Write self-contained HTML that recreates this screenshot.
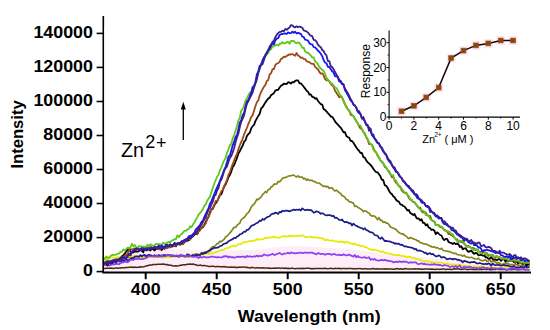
<!DOCTYPE html>
<html><head><meta charset="utf-8"><style>
html,body{margin:0;padding:0;background:#fff;}
body{width:550px;height:330px;overflow:hidden;}
svg{display:block;}
text{font-family:"Liberation Sans",sans-serif;}
.tl{font-size:17px;font-weight:bold;}
.il{font-size:12px;}
</style></head><body>
<svg width="550" height="330" viewBox="0 0 550 330">
<rect width="550" height="330" fill="#fff"/>
<path d="M104.0,259.2 L106.0,259.0 L108.0,258.8 L110.0,258.5 L112.0,258.2 L114.0,257.9 L116.0,257.6 L118.0,257.2 L120.0,256.9 L122.0,256.6 L124.0,256.2 L126.0,255.7 L128.0,255.1 L130.0,254.0 L132.0,253.1 L134.0,252.8 L136.0,252.6 L138.0,252.5 L140.0,252.3 L142.0,252.1 L144.0,251.6 L146.0,251.0 L148.0,250.4 L150.0,250.0 L152.0,249.8 L154.0,249.7 L156.0,249.6 L158.0,249.5 L160.0,249.4 L162.0,249.3 L164.0,249.3 L166.0,249.3 L168.0,249.3 L170.0,249.3 L172.0,249.3 L174.0,249.3 L176.0,249.4 L178.0,249.4 L180.0,249.4 L182.0,249.4 L184.0,249.5 L186.0,249.5 L188.0,249.6 L190.0,249.8 L192.0,250.0 L194.0,250.2 L196.0,250.3 L198.0,250.5 L200.0,250.5 L202.0,250.5 L204.0,250.5 L206.0,250.4 L208.0,250.4 L210.0,250.4 L212.0,250.3 L214.0,250.3 L216.0,250.3 L218.0,250.3 L220.0,250.3 L222.0,250.3 L224.0,250.3 L226.0,250.3 L228.0,250.3 L230.0,250.3 L232.0,250.3 L234.0,250.3 L236.0,250.3 L238.0,250.3 L240.0,250.3 L242.0,250.3 L244.0,250.3 L246.0,250.2 L248.0,250.1 L250.0,250.1 L252.0,250.0 L254.0,249.9 L256.0,249.7 L258.0,249.6 L260.0,249.5 L262.0,249.3 L264.0,249.1 L266.0,248.8 L268.0,248.5 L270.0,248.1 L272.0,247.8 L274.0,247.6 L276.0,247.4 L278.0,247.2 L280.0,247.0 L282.0,246.9 L284.0,246.7 L286.0,246.6 L288.0,246.5 L290.0,246.5 L292.0,246.5 L294.0,246.5 L296.0,246.5 L298.0,246.6 L300.0,246.6 L302.0,246.6 L304.0,246.7 L306.0,246.7 L308.0,246.8 L310.0,246.8 L312.0,246.9 L314.0,246.9 L316.0,247.0 L318.0,247.1 L320.0,247.3 L322.0,247.4 L324.0,247.5 L326.0,247.7 L328.0,247.8 L330.0,247.9 L332.0,248.0 L334.0,248.1 L336.0,248.2 L338.0,248.3 L340.0,248.4 L342.0,248.5 L344.0,248.6 L346.0,248.7 L348.0,248.8 L350.0,249.0 L352.0,249.2 L354.0,249.4 L356.0,249.7 L358.0,250.0 L360.0,250.3 L362.0,250.7 L364.0,251.0 L366.0,251.4 L368.0,251.7 L370.0,252.0 L372.0,252.3 L374.0,252.6 L376.0,253.0 L378.0,253.3 L380.0,253.6 L382.0,253.9 L384.0,254.2 L386.0,254.4 L388.0,254.5 L390.0,254.7 L392.0,254.8 L394.0,254.9 L396.0,255.1 L398.0,255.2 L400.0,255.3 L402.0,255.4 L404.0,255.5 L406.0,255.6 L408.0,255.7 L410.0,255.9 L412.0,256.1 L414.0,256.3 L416.0,256.5 L418.0,256.7 L420.0,256.9 L422.0,257.2 L424.0,257.4 L426.0,257.6 L428.0,257.8 L430.0,258.0 L432.0,258.2 L434.0,258.3 L436.0,258.5 L438.0,258.7 L440.0,258.8 L442.0,259.0 L444.0,259.2 L446.0,259.3 L448.0,259.5 L450.0,259.6 L452.0,259.7 L454.0,259.9 L456.0,260.0 L458.0,260.2 L460.0,260.3 L462.0,260.4 L464.0,260.6 L466.0,260.7 L468.0,260.8 L470.0,261.0 L472.0,261.1 L474.0,261.2 L476.0,261.3 L478.0,261.4 L480.0,261.5 L482.0,261.6 L484.0,261.6 L486.0,261.7 L488.0,261.8 L490.0,261.9 L492.0,261.9 L494.0,262.0 L496.0,262.1 L498.0,262.1 L500.0,262.2 L502.0,262.2 L504.0,262.3 L506.0,262.4 L508.0,262.4 L510.0,262.5 L512.0,262.5 L514.0,262.5 L516.0,262.6 L518.0,262.6 L520.0,262.6 L522.0,262.7 L524.0,262.7 L526.0,262.7 L528.0,262.7 L530.0,262.7 L530,270.5 L104,270.5 Z" fill="#fcedf7"/>
<path d="M103.5,268.4 L104.9,268.5 L106.3,268.3 L107.8,268.2 L109.2,268.2 L110.6,268.1 L112.0,268.3 L113.4,268.5 L114.9,268.1 L116.3,268.0 L117.7,268.2 L119.1,268.1 L120.5,268.0 L122.0,267.7 L123.4,267.8 L124.8,267.8 L126.2,267.4 L127.6,267.5 L129.1,267.2 L130.5,267.2 L131.9,267.1 L133.3,267.4 L134.7,267.1 L136.2,267.4 L137.6,267.3 L139.0,267.2 L140.4,266.7 L141.8,266.9 L143.3,266.8 L144.7,266.5 L146.1,265.8 L147.5,265.7 L148.9,265.2 L150.4,264.9 L151.8,265.0 L153.2,264.5 L154.6,264.5 L156.0,264.6 L157.5,264.2 L158.9,264.3 L160.3,264.3 L161.7,264.2 L163.1,264.0 L164.6,264.3 L166.0,264.7 L167.4,264.4 L168.8,265.2 L170.2,265.3 L171.7,265.3 L173.1,266.1 L174.5,266.0 L175.9,265.8 L177.3,266.0 L178.8,265.8 L180.2,265.3 L181.6,265.2 L183.0,264.8 L184.4,264.7 L185.9,264.7 L187.3,264.2 L188.7,264.3 L190.1,264.1 L191.5,264.2 L193.0,264.1 L194.4,264.4 L195.8,264.7 L197.2,265.2 L198.6,265.5 L200.1,265.1 L201.5,265.4 L202.9,265.8 L204.3,265.4 L205.7,265.8 L207.2,266.0 L208.6,266.4 L210.0,266.4 L211.4,266.3 L212.8,266.3 L214.3,266.4 L215.7,266.8 L217.1,266.5 L218.5,266.6 L219.9,266.8 L221.4,266.7 L222.8,266.8 L224.2,266.6 L225.6,266.9 L227.0,266.9 L228.5,267.2 L229.9,267.2 L231.3,267.1 L232.7,267.2 L234.1,267.1 L235.6,267.4 L237.0,267.2 L238.4,267.4 L239.8,267.0 L241.2,267.4 L242.7,267.0 L244.1,267.0 L245.5,267.4 L246.9,267.3 L248.3,267.6 L249.8,268.0 L251.2,267.5 L252.6,267.6 L254.0,267.8 L255.4,267.9 L256.9,267.8 L258.3,267.8 L259.7,268.0 L261.1,268.0 L262.5,267.8 L264.0,268.0 L265.4,268.0 L266.8,267.9 L268.2,268.2 L269.6,268.0 L271.1,268.4 L272.5,268.2 L273.9,268.2 L275.3,268.1 L276.7,268.2 L278.2,267.9 L279.6,268.1 L281.0,268.4 L282.4,267.9 L283.8,268.5 L285.3,268.0 L286.7,268.5 L288.1,268.2 L289.5,268.5 L290.9,268.4 L292.4,268.1 L293.8,268.6 L295.2,268.7 L296.6,268.4 L298.0,268.4 L299.5,268.4 L300.9,268.2 L302.3,268.7 L303.7,268.3 L305.1,268.4 L306.6,268.3 L308.0,268.3 L309.4,268.2 L310.8,268.7 L312.2,268.5 L313.7,268.7 L315.1,268.5 L316.5,268.4 L317.9,268.4 L319.3,268.4 L320.8,268.5 L322.2,268.4 L323.6,268.5 L325.0,268.3 L326.4,268.4 L327.9,268.9 L329.3,268.4 L330.7,268.3 L332.1,268.6 L333.5,268.8 L335.0,268.3 L336.4,268.5 L337.8,268.5 L339.2,268.2 L340.6,268.8 L342.1,268.6 L343.5,268.6 L344.9,268.5 L346.3,268.7 L347.7,268.5 L349.2,268.6 L350.6,268.4 L352.0,268.4 L353.4,269.0 L354.8,268.6 L356.3,268.8 L357.7,268.7 L359.1,268.6 L360.5,268.6 L361.9,268.9 L363.4,268.7 L364.8,268.7 L366.2,268.8 L367.6,269.0 L369.0,268.9 L370.5,268.9 L371.9,268.7 L373.3,268.5 L374.7,269.0 L376.1,269.0 L377.6,268.8 L379.0,269.0 L380.4,269.0 L381.8,269.0 L383.2,269.1 L384.7,268.8 L386.1,269.2 L387.5,268.7 L388.9,269.1 L390.3,269.0 L391.8,269.1 L393.2,269.3 L394.6,269.3 L396.0,268.7 L397.4,268.6 L398.9,269.2 L400.3,268.8 L401.7,269.0 L403.1,269.2 L404.5,268.7 L406.0,268.6 L407.4,269.1 L408.8,269.1 L410.2,269.0 L411.6,269.1 L413.1,268.9 L414.5,268.8 L415.9,269.1 L417.3,268.9 L418.7,268.8 L420.2,269.2 L421.6,269.1 L423.0,269.2 L424.4,268.9 L425.8,269.0 L427.3,269.0 L428.7,269.0 L430.1,269.2 L431.5,269.0 L432.9,269.3 L434.4,269.3 L435.8,269.6 L437.2,268.9 L438.6,269.4 L440.0,269.2 L441.5,269.2 L442.9,268.9 L444.3,269.1 L445.7,269.4 L447.1,269.2 L448.6,269.3 L450.0,269.2 L451.4,269.5 L452.8,269.3 L454.2,268.8 L455.7,269.1 L457.1,268.9 L458.5,268.6 L459.9,269.2 L461.3,269.6 L462.8,269.3 L464.2,269.1 L465.6,269.1 L467.0,269.6 L468.4,269.4 L469.9,269.3 L471.3,269.3 L472.7,269.4 L474.1,269.5 L475.5,269.5 L477.0,269.4 L478.4,269.2 L479.8,269.5 L481.2,269.2 L482.6,269.6 L484.1,269.1 L485.5,269.4 L486.9,269.4 L488.3,269.1 L489.7,269.7 L491.2,269.7 L492.6,269.3 L494.0,269.6 L495.4,269.5 L496.8,268.9 L498.3,269.5 L499.7,269.4 L501.1,269.5 L502.5,269.2 L503.9,269.4 L505.4,269.4 L506.8,269.7 L508.2,269.5 L509.6,269.5 L511.0,269.8 L512.5,269.4 L513.9,269.4 L515.3,269.1 L516.7,269.8 L518.1,269.7 L519.6,269.7 L521.0,269.6 L522.4,269.5 L523.8,269.5 L525.2,269.4 L526.7,269.5 L528.1,269.5 L529.5,269.8" stroke="#4a2a0e" stroke-width="1.5" fill="none" stroke-linejoin="round"/><path d="M103.5,262.4 L104.9,261.7 L106.3,261.2 L107.8,260.9 L109.2,262.1 L110.6,261.1 L112.0,260.6 L113.4,260.1 L114.9,259.3 L116.3,259.7 L117.7,260.0 L119.1,258.9 L120.5,258.7 L122.0,258.4 L123.4,258.3 L124.8,257.0 L126.2,257.7 L127.6,257.1 L129.1,258.1 L130.5,256.9 L131.9,257.6 L133.3,258.1 L134.7,256.8 L136.2,256.5 L137.6,257.0 L139.0,256.8 L140.4,256.0 L141.8,256.9 L143.3,257.9 L144.7,256.3 L146.1,256.3 L147.5,255.7 L148.9,256.6 L150.4,255.5 L151.8,255.5 L153.2,257.0 L154.6,255.6 L156.0,256.8 L157.5,257.1 L158.9,256.2 L160.3,256.4 L161.7,257.3 L163.1,255.9 L164.6,255.6 L166.0,255.1 L167.4,256.0 L168.8,257.0 L170.2,256.6 L171.7,255.4 L173.1,255.4 L174.5,255.7 L175.9,256.2 L177.3,255.9 L178.8,256.1 L180.2,256.2 L181.6,255.8 L183.0,256.0 L184.4,256.1 L185.9,255.9 L187.3,256.3 L188.7,257.1 L190.1,256.2 L191.5,255.7 L193.0,254.4 L194.4,255.6 L195.8,253.9 L197.2,254.0 L198.6,255.3 L200.1,254.9 L201.5,254.1 L202.9,252.5 L204.3,252.8 L205.7,251.8 L207.2,251.8 L208.6,251.9 L210.0,249.6 L211.4,247.9 L212.8,246.7 L214.3,246.4 L215.7,245.3 L217.1,243.6 L218.5,243.3 L219.9,241.3 L221.4,241.6 L222.8,240.4 L224.2,239.2 L225.6,236.9 L227.0,236.3 L228.5,234.5 L229.9,232.9 L231.3,231.4 L232.7,229.1 L234.1,227.4 L235.6,227.5 L237.0,225.4 L238.4,224.2 L239.8,223.1 L241.2,219.6 L242.7,218.6 L244.1,217.5 L245.5,215.9 L246.9,213.6 L248.3,212.7 L249.8,210.3 L251.2,207.2 L252.6,205.2 L254.0,204.2 L255.4,202.2 L256.9,199.1 L258.3,199.7 L259.7,197.9 L261.1,197.1 L262.5,194.6 L264.0,193.3 L265.4,191.5 L266.8,192.5 L268.2,189.5 L269.6,189.5 L271.1,186.9 L272.5,186.4 L273.9,184.2 L275.3,184.1 L276.7,184.0 L278.2,181.5 L279.6,181.9 L281.0,180.2 L282.4,178.3 L283.8,177.9 L285.3,177.3 L286.7,177.1 L288.1,176.3 L289.5,175.8 L290.9,175.8 L292.4,175.2 L293.8,175.1 L295.2,176.1 L296.6,177.0 L298.0,175.8 L299.5,177.1 L300.9,177.1 L302.3,177.2 L303.7,178.9 L305.1,178.4 L306.6,180.2 L308.0,179.2 L309.4,180.4 L310.8,180.4 L312.2,180.4 L313.7,181.7 L315.1,181.7 L316.5,182.8 L317.9,183.0 L319.3,183.1 L320.8,184.5 L322.2,185.4 L323.6,186.6 L325.0,185.9 L326.4,187.0 L327.9,186.4 L329.3,188.4 L330.7,187.8 L332.1,187.9 L333.5,189.6 L335.0,191.0 L336.4,190.1 L337.8,191.3 L339.2,192.6 L340.6,193.5 L342.1,195.7 L343.5,196.1 L344.9,197.4 L346.3,199.5 L347.7,199.8 L349.2,201.7 L350.6,201.8 L352.0,202.6 L353.4,203.1 L354.8,206.5 L356.3,206.0 L357.7,207.2 L359.1,207.9 L360.5,208.9 L361.9,209.7 L363.4,211.8 L364.8,210.7 L366.2,211.2 L367.6,212.4 L369.0,213.1 L370.5,215.3 L371.9,216.1 L373.3,215.8 L374.7,216.3 L376.1,217.7 L377.6,219.6 L379.0,217.6 L380.4,220.5 L381.8,220.2 L383.2,222.4 L384.7,221.8 L386.1,223.1 L387.5,223.2 L388.9,224.5 L390.3,226.9 L391.8,227.6 L393.2,228.0 L394.6,228.9 L396.0,229.4 L397.4,231.3 L398.9,232.4 L400.3,233.2 L401.7,233.9 L403.1,233.9 L404.5,235.3 L406.0,236.0 L407.4,237.5 L408.8,238.5 L410.2,237.7 L411.6,237.9 L413.1,238.9 L414.5,239.2 L415.9,239.7 L417.3,240.9 L418.7,240.9 L420.2,242.7 L421.6,242.8 L423.0,243.6 L424.4,243.9 L425.8,244.1 L427.3,244.5 L428.7,245.5 L430.1,245.8 L431.5,246.8 L432.9,247.1 L434.4,246.7 L435.8,248.0 L437.2,247.5 L438.6,248.4 L440.0,249.1 L441.5,248.3 L442.9,250.2 L444.3,250.6 L445.7,250.9 L447.1,251.1 L448.6,251.6 L450.0,251.6 L451.4,252.5 L452.8,252.8 L454.2,253.6 L455.7,253.2 L457.1,254.5 L458.5,254.8 L459.9,255.0 L461.3,255.2 L462.8,256.2 L464.2,255.1 L465.6,256.8 L467.0,257.0 L468.4,257.3 L469.9,257.7 L471.3,257.3 L472.7,257.9 L474.1,258.7 L475.5,258.9 L477.0,259.0 L478.4,258.2 L479.8,259.8 L481.2,260.5 L482.6,260.7 L484.1,260.4 L485.5,259.5 L486.9,261.4 L488.3,261.0 L489.7,259.7 L491.2,261.9 L492.6,260.9 L494.0,261.3 L495.4,262.0 L496.8,263.4 L498.3,262.6 L499.7,263.2 L501.1,264.4 L502.5,264.5 L503.9,263.6 L505.4,263.6 L506.8,263.1 L508.2,263.6 L509.6,264.5 L511.0,264.6 L512.5,264.5 L513.9,265.2 L515.3,264.2 L516.7,264.8 L518.1,265.4 L519.6,265.4 L521.0,265.8 L522.4,265.5 L523.8,265.2 L525.2,265.7 L526.7,264.9 L528.1,264.6 L529.5,266.1" stroke="#86861a" stroke-width="1.7" fill="none" stroke-linejoin="round"/><path d="M103.5,260.7 L104.9,260.3 L106.3,258.9 L107.8,259.1 L109.2,258.6 L110.6,258.1 L112.0,257.1 L113.4,257.7 L114.9,258.0 L116.3,257.6 L117.7,256.9 L119.1,257.0 L120.5,257.1 L122.0,255.4 L123.4,256.5 L124.8,256.7 L126.2,256.6 L127.6,257.0 L129.1,256.6 L130.5,256.2 L131.9,256.1 L133.3,256.4 L134.7,255.9 L136.2,256.3 L137.6,256.9 L139.0,257.6 L140.4,256.8 L141.8,257.0 L143.3,257.1 L144.7,257.6 L146.1,257.0 L147.5,257.6 L148.9,256.5 L150.4,256.9 L151.8,256.9 L153.2,257.3 L154.6,257.4 L156.0,256.2 L157.5,256.5 L158.9,257.0 L160.3,256.6 L161.7,256.2 L163.1,257.3 L164.6,257.0 L166.0,257.0 L167.4,256.6 L168.8,257.2 L170.2,256.6 L171.7,257.2 L173.1,256.3 L174.5,256.3 L175.9,256.8 L177.3,256.3 L178.8,256.9 L180.2,256.7 L181.6,256.2 L183.0,256.6 L184.4,256.4 L185.9,256.9 L187.3,256.1 L188.7,256.1 L190.1,256.7 L191.5,257.0 L193.0,256.8 L194.4,255.7 L195.8,255.6 L197.2,256.0 L198.6,255.1 L200.1,254.6 L201.5,254.9 L202.9,254.9 L204.3,254.2 L205.7,253.6 L207.2,253.5 L208.6,254.3 L210.0,253.4 L211.4,253.4 L212.8,253.2 L214.3,253.0 L215.7,252.1 L217.1,251.9 L218.5,250.8 L219.9,250.5 L221.4,249.7 L222.8,250.2 L224.2,249.2 L225.6,248.4 L227.0,248.1 L228.5,247.7 L229.9,247.7 L231.3,246.2 L232.7,245.9 L234.1,245.7 L235.6,246.5 L237.0,245.2 L238.4,244.2 L239.8,244.0 L241.2,244.1 L242.7,242.6 L244.1,242.0 L245.5,242.3 L246.9,241.7 L248.3,241.5 L249.8,240.7 L251.2,241.5 L252.6,241.2 L254.0,240.5 L255.4,240.4 L256.9,238.9 L258.3,239.9 L259.7,239.3 L261.1,239.4 L262.5,239.2 L264.0,238.5 L265.4,237.6 L266.8,238.3 L268.2,237.6 L269.6,237.5 L271.1,237.3 L272.5,237.3 L273.9,236.3 L275.3,237.8 L276.7,237.2 L278.2,237.6 L279.6,237.9 L281.0,236.9 L282.4,236.0 L283.8,236.4 L285.3,236.2 L286.7,236.4 L288.1,236.6 L289.5,235.5 L290.9,236.5 L292.4,235.5 L293.8,236.3 L295.2,236.0 L296.6,235.8 L298.0,235.9 L299.5,235.7 L300.9,235.6 L302.3,235.2 L303.7,236.0 L305.1,236.9 L306.6,237.1 L308.0,237.0 L309.4,236.9 L310.8,236.5 L312.2,237.6 L313.7,237.1 L315.1,237.3 L316.5,237.4 L317.9,237.8 L319.3,237.9 L320.8,238.3 L322.2,238.2 L323.6,238.9 L325.0,240.4 L326.4,239.7 L327.9,239.9 L329.3,240.5 L330.7,240.8 L332.1,240.2 L333.5,240.8 L335.0,241.5 L336.4,241.4 L337.8,241.5 L339.2,242.3 L340.6,241.4 L342.1,241.9 L343.5,241.8 L344.9,242.9 L346.3,241.5 L347.7,242.3 L349.2,242.6 L350.6,243.4 L352.0,243.7 L353.4,244.4 L354.8,243.4 L356.3,244.9 L357.7,244.9 L359.1,245.2 L360.5,246.2 L361.9,246.0 L363.4,246.0 L364.8,247.2 L366.2,247.2 L367.6,248.0 L369.0,248.9 L370.5,249.3 L371.9,250.2 L373.3,249.8 L374.7,249.5 L376.1,250.2 L377.6,250.5 L379.0,250.7 L380.4,251.8 L381.8,251.7 L383.2,251.4 L384.7,252.9 L386.1,252.8 L387.5,253.3 L388.9,253.5 L390.3,254.0 L391.8,254.1 L393.2,254.9 L394.6,254.8 L396.0,255.0 L397.4,255.3 L398.9,254.7 L400.3,255.5 L401.7,255.8 L403.1,256.2 L404.5,255.8 L406.0,257.4 L407.4,257.0 L408.8,256.7 L410.2,256.8 L411.6,257.7 L413.1,258.1 L414.5,258.2 L415.9,258.9 L417.3,258.9 L418.7,259.8 L420.2,259.6 L421.6,260.3 L423.0,261.1 L424.4,262.1 L425.8,260.8 L427.3,261.3 L428.7,261.4 L430.1,262.4 L431.5,261.7 L432.9,262.2 L434.4,262.6 L435.8,262.4 L437.2,262.5 L438.6,262.9 L440.0,262.3 L441.5,262.8 L442.9,263.4 L444.3,263.8 L445.7,263.8 L447.1,263.2 L448.6,264.0 L450.0,264.7 L451.4,264.7 L452.8,264.5 L454.2,264.3 L455.7,265.1 L457.1,264.7 L458.5,264.6 L459.9,264.9 L461.3,266.0 L462.8,265.6 L464.2,266.2 L465.6,265.6 L467.0,266.3 L468.4,265.7 L469.9,266.0 L471.3,267.3 L472.7,266.7 L474.1,266.2 L475.5,266.5 L477.0,266.8 L478.4,267.3 L479.8,266.6 L481.2,266.1 L482.6,266.8 L484.1,267.0 L485.5,267.1 L486.9,267.7 L488.3,267.3 L489.7,267.6 L491.2,266.8 L492.6,267.8 L494.0,268.4 L495.4,267.8 L496.8,267.7 L498.3,267.7 L499.7,268.4 L501.1,267.3 L502.5,267.7 L503.9,268.0 L505.4,268.1 L506.8,267.7 L508.2,268.0 L509.6,267.8 L511.0,268.0 L512.5,267.9 L513.9,267.5 L515.3,268.0 L516.7,268.5 L518.1,267.7 L519.6,268.0 L521.0,268.5 L522.4,267.7 L523.8,268.3 L525.2,267.8 L526.7,268.8 L528.1,269.3 L529.5,269.2" stroke="#e8e800" stroke-width="1.7" fill="none" stroke-linejoin="round"/><path d="M103.5,263.4 L104.9,263.7 L106.3,263.0 L107.8,262.7 L109.2,263.4 L110.6,261.4 L112.0,262.6 L113.4,261.7 L114.9,262.4 L116.3,261.4 L117.7,260.8 L119.1,261.2 L120.5,261.4 L122.0,260.8 L123.4,260.9 L124.8,260.2 L126.2,259.0 L127.6,260.6 L129.1,260.1 L130.5,259.1 L131.9,258.3 L133.3,258.2 L134.7,256.8 L136.2,256.3 L137.6,256.3 L139.0,256.9 L140.4,255.1 L141.8,256.4 L143.3,255.2 L144.7,254.8 L146.1,256.3 L147.5,255.4 L148.9,254.7 L150.4,255.3 L151.8,256.1 L153.2,256.2 L154.6,255.2 L156.0,255.7 L157.5,255.9 L158.9,255.1 L160.3,255.7 L161.7,255.5 L163.1,255.2 L164.6,255.2 L166.0,255.5 L167.4,255.5 L168.8,255.2 L170.2,255.2 L171.7,256.2 L173.1,255.6 L174.5,256.0 L175.9,256.2 L177.3,255.9 L178.8,256.9 L180.2,255.0 L181.6,256.0 L183.0,255.3 L184.4,256.6 L185.9,256.5 L187.3,254.3 L188.7,254.8 L190.1,255.8 L191.5,255.8 L193.0,255.6 L194.4,255.0 L195.8,255.2 L197.2,255.2 L198.6,254.6 L200.1,255.1 L201.5,252.9 L202.9,254.2 L204.3,252.6 L205.7,253.2 L207.2,251.8 L208.6,250.6 L210.0,250.7 L211.4,249.2 L212.8,248.6 L214.3,247.7 L215.7,248.0 L217.1,247.7 L218.5,247.4 L219.9,246.0 L221.4,246.0 L222.8,244.6 L224.2,243.8 L225.6,243.4 L227.0,242.9 L228.5,241.2 L229.9,240.4 L231.3,239.7 L232.7,239.1 L234.1,237.8 L235.6,238.2 L237.0,236.5 L238.4,236.1 L239.8,234.3 L241.2,234.0 L242.7,233.0 L244.1,231.5 L245.5,231.9 L246.9,229.8 L248.3,229.6 L249.8,228.1 L251.2,226.1 L252.6,225.3 L254.0,224.9 L255.4,223.8 L256.9,223.1 L258.3,222.2 L259.7,220.6 L261.1,220.9 L262.5,219.0 L264.0,219.8 L265.4,218.3 L266.8,217.4 L268.2,216.8 L269.6,216.2 L271.1,214.5 L272.5,213.7 L273.9,213.7 L275.3,212.7 L276.7,212.9 L278.2,214.0 L279.6,211.9 L281.0,212.4 L282.4,210.7 L283.8,211.3 L285.3,210.7 L286.7,210.7 L288.1,210.9 L289.5,211.5 L290.9,210.5 L292.4,210.3 L293.8,209.5 L295.2,210.2 L296.6,209.5 L298.0,210.0 L299.5,209.4 L300.9,210.5 L302.3,208.3 L303.7,209.4 L305.1,210.3 L306.6,209.8 L308.0,209.7 L309.4,210.3 L310.8,209.9 L312.2,211.0 L313.7,212.7 L315.1,212.3 L316.5,211.3 L317.9,211.8 L319.3,212.5 L320.8,213.8 L322.2,213.2 L323.6,213.7 L325.0,215.0 L326.4,215.4 L327.9,215.1 L329.3,215.1 L330.7,215.3 L332.1,216.2 L333.5,215.7 L335.0,218.0 L336.4,217.6 L337.8,218.7 L339.2,220.0 L340.6,220.2 L342.1,219.4 L343.5,221.4 L344.9,222.3 L346.3,221.9 L347.7,222.4 L349.2,223.5 L350.6,223.1 L352.0,225.5 L353.4,223.6 L354.8,224.9 L356.3,225.9 L357.7,226.4 L359.1,227.2 L360.5,227.8 L361.9,228.1 L363.4,229.5 L364.8,228.2 L366.2,230.1 L367.6,230.3 L369.0,231.6 L370.5,232.3 L371.9,232.4 L373.3,233.3 L374.7,235.0 L376.1,235.5 L377.6,235.6 L379.0,238.0 L380.4,238.8 L381.8,237.3 L383.2,239.1 L384.7,241.1 L386.1,240.8 L387.5,241.1 L388.9,241.3 L390.3,241.6 L391.8,242.3 L393.2,242.5 L394.6,243.7 L396.0,243.4 L397.4,243.8 L398.9,243.7 L400.3,244.8 L401.7,244.6 L403.1,245.4 L404.5,246.5 L406.0,246.4 L407.4,246.9 L408.8,247.2 L410.2,247.4 L411.6,247.7 L413.1,248.1 L414.5,249.3 L415.9,248.7 L417.3,250.7 L418.7,250.5 L420.2,250.6 L421.6,251.3 L423.0,251.7 L424.4,252.8 L425.8,252.7 L427.3,254.3 L428.7,253.6 L430.1,253.1 L431.5,254.3 L432.9,253.9 L434.4,255.4 L435.8,256.3 L437.2,256.3 L438.6,255.4 L440.0,256.0 L441.5,257.8 L442.9,257.1 L444.3,257.2 L445.7,258.1 L447.1,259.3 L448.6,258.9 L450.0,258.5 L451.4,258.9 L452.8,259.4 L454.2,258.9 L455.7,259.0 L457.1,259.9 L458.5,259.6 L459.9,260.4 L461.3,260.7 L462.8,262.3 L464.2,260.7 L465.6,261.4 L467.0,261.6 L468.4,262.2 L469.9,262.8 L471.3,262.1 L472.7,262.1 L474.1,261.8 L475.5,262.5 L477.0,263.5 L478.4,263.4 L479.8,263.0 L481.2,263.5 L482.6,263.9 L484.1,264.3 L485.5,263.8 L486.9,264.2 L488.3,263.4 L489.7,263.9 L491.2,265.7 L492.6,263.5 L494.0,264.7 L495.4,265.2 L496.8,265.0 L498.3,264.8 L499.7,265.4 L501.1,265.5 L502.5,265.6 L503.9,264.6 L505.4,265.7 L506.8,265.4 L508.2,265.7 L509.6,266.3 L511.0,266.6 L512.5,266.9 L513.9,266.1 L515.3,267.1 L516.7,267.3 L518.1,267.4 L519.6,267.6 L521.0,266.8 L522.4,266.9 L523.8,267.6 L525.2,266.3 L526.7,267.3 L528.1,267.0 L529.5,267.2" stroke="#1c1a86" stroke-width="1.7" fill="none" stroke-linejoin="round"/><path d="M103.5,265.0 L104.9,265.2 L106.3,265.5 L107.8,265.7 L109.2,265.5 L110.6,264.9 L112.0,264.6 L113.4,264.1 L114.9,264.4 L116.3,263.9 L117.7,264.0 L119.1,264.3 L120.5,263.3 L122.0,262.4 L123.4,262.4 L124.8,261.8 L126.2,261.6 L127.6,262.3 L129.1,261.2 L130.5,259.5 L131.9,259.9 L133.3,259.9 L134.7,259.1 L136.2,258.8 L137.6,258.9 L139.0,259.0 L140.4,259.1 L141.8,259.2 L143.3,258.9 L144.7,258.5 L146.1,258.1 L147.5,257.3 L148.9,256.0 L150.4,256.4 L151.8,256.5 L153.2,256.1 L154.6,256.6 L156.0,255.9 L157.5,255.6 L158.9,256.6 L160.3,256.2 L161.7,255.9 L163.1,256.2 L164.6,256.3 L166.0,256.0 L167.4,254.7 L168.8,255.5 L170.2,255.6 L171.7,255.4 L173.1,255.9 L174.5,256.4 L175.9,255.6 L177.3,255.4 L178.8,256.8 L180.2,255.7 L181.6,255.4 L183.0,256.1 L184.4,256.2 L185.9,255.7 L187.3,256.4 L188.7,256.0 L190.1,255.9 L191.5,256.5 L193.0,256.9 L194.4,256.4 L195.8,257.0 L197.2,256.9 L198.6,258.2 L200.1,256.7 L201.5,257.6 L202.9,257.0 L204.3,256.9 L205.7,257.3 L207.2,257.3 L208.6,257.4 L210.0,257.0 L211.4,256.6 L212.8,256.6 L214.3,257.0 L215.7,257.1 L217.1,257.4 L218.5,257.0 L219.9,257.3 L221.4,257.5 L222.8,256.9 L224.2,256.1 L225.6,256.3 L227.0,256.2 L228.5,257.5 L229.9,256.4 L231.3,257.4 L232.7,257.1 L234.1,257.6 L235.6,257.3 L237.0,256.8 L238.4,256.7 L239.8,256.8 L241.2,256.9 L242.7,256.5 L244.1,256.7 L245.5,257.4 L246.9,255.9 L248.3,256.7 L249.8,256.2 L251.2,256.6 L252.6,256.8 L254.0,256.3 L255.4,256.6 L256.9,255.5 L258.3,256.6 L259.7,255.7 L261.1,256.2 L262.5,255.9 L264.0,254.4 L265.4,255.0 L266.8,255.3 L268.2,255.6 L269.6,254.8 L271.1,254.6 L272.5,253.6 L273.9,254.8 L275.3,254.8 L276.7,253.9 L278.2,253.6 L279.6,252.9 L281.0,253.9 L282.4,254.6 L283.8,253.6 L285.3,253.7 L286.7,253.3 L288.1,252.6 L289.5,253.6 L290.9,252.4 L292.4,252.9 L293.8,253.1 L295.2,253.4 L296.6,253.2 L298.0,253.2 L299.5,252.7 L300.9,252.5 L302.3,253.2 L303.7,252.8 L305.1,252.6 L306.6,252.7 L308.0,253.0 L309.4,252.5 L310.8,252.7 L312.2,252.6 L313.7,253.5 L315.1,253.7 L316.5,254.5 L317.9,253.0 L319.3,253.4 L320.8,254.2 L322.2,253.8 L323.6,253.9 L325.0,254.9 L326.4,254.0 L327.9,253.8 L329.3,253.8 L330.7,254.6 L332.1,254.6 L333.5,254.0 L335.0,254.2 L336.4,255.0 L337.8,255.0 L339.2,254.6 L340.6,255.2 L342.1,255.2 L343.5,254.3 L344.9,255.0 L346.3,255.4 L347.7,255.1 L349.2,254.5 L350.6,255.4 L352.0,256.0 L353.4,256.6 L354.8,255.0 L356.3,257.4 L357.7,255.9 L359.1,257.1 L360.5,257.5 L361.9,257.6 L363.4,257.5 L364.8,257.1 L366.2,258.2 L367.6,257.8 L369.0,257.2 L370.5,259.8 L371.9,259.1 L373.3,259.8 L374.7,258.9 L376.1,260.2 L377.6,260.5 L379.0,260.7 L380.4,260.2 L381.8,259.9 L383.2,260.5 L384.7,259.8 L386.1,260.1 L387.5,261.0 L388.9,260.7 L390.3,261.1 L391.8,261.3 L393.2,262.3 L394.6,262.1 L396.0,261.5 L397.4,262.2 L398.9,261.4 L400.3,261.6 L401.7,262.3 L403.1,261.4 L404.5,261.9 L406.0,261.5 L407.4,262.3 L408.8,263.0 L410.2,262.1 L411.6,262.6 L413.1,262.3 L414.5,262.3 L415.9,262.4 L417.3,263.8 L418.7,264.3 L420.2,263.7 L421.6,263.3 L423.0,264.1 L424.4,263.8 L425.8,264.4 L427.3,264.4 L428.7,264.5 L430.1,264.8 L431.5,264.4 L432.9,264.6 L434.4,264.1 L435.8,264.8 L437.2,264.5 L438.6,265.2 L440.0,264.9 L441.5,265.5 L442.9,265.8 L444.3,265.0 L445.7,265.4 L447.1,265.5 L448.6,266.3 L450.0,266.9 L451.4,266.6 L452.8,266.2 L454.2,267.1 L455.7,265.8 L457.1,267.3 L458.5,266.4 L459.9,265.5 L461.3,268.1 L462.8,267.7 L464.2,266.6 L465.6,267.3 L467.0,267.2 L468.4,267.4 L469.9,266.8 L471.3,267.2 L472.7,267.9 L474.1,267.8 L475.5,268.3 L477.0,267.9 L478.4,269.0 L479.8,267.7 L481.2,268.2 L482.6,267.2 L484.1,267.6 L485.5,268.8 L486.9,267.8 L488.3,268.5 L489.7,268.3 L491.2,267.9 L492.6,268.3 L494.0,268.3 L495.4,268.3 L496.8,268.9 L498.3,268.9 L499.7,268.4 L501.1,268.3 L502.5,268.9 L503.9,268.8 L505.4,269.3 L506.8,270.1 L508.2,269.3 L509.6,268.9 L511.0,268.9 L512.5,268.6 L513.9,268.6 L515.3,268.6 L516.7,268.9 L518.1,268.9 L519.6,269.5 L521.0,269.0 L522.4,269.1 L523.8,268.6 L525.2,269.9 L526.7,269.4 L528.1,270.0 L529.5,269.6" stroke="#8a3ff0" stroke-width="1.7" fill="none" stroke-linejoin="round"/><path d="M103.5,264.5 L104.9,262.9 L106.3,263.5 L107.8,265.0 L109.2,261.4 L110.6,263.1 L112.0,263.2 L113.4,261.8 L114.9,261.7 L116.3,261.7 L117.7,259.5 L119.1,259.8 L120.5,257.9 L122.0,256.8 L123.4,255.2 L124.8,253.7 L126.2,251.6 L127.6,250.2 L129.1,247.8 L130.5,251.8 L131.9,252.1 L133.3,252.5 L134.7,251.6 L136.2,251.5 L137.6,251.6 L139.0,251.1 L140.4,248.9 L141.8,250.7 L143.3,252.3 L144.7,247.9 L146.1,250.3 L147.5,249.7 L148.9,249.2 L150.4,250.5 L151.8,248.2 L153.2,249.4 L154.6,250.5 L156.0,249.0 L157.5,248.8 L158.9,249.2 L160.3,248.6 L161.7,250.1 L163.1,247.7 L164.6,248.9 L166.0,246.6 L167.4,247.9 L168.8,246.7 L170.2,244.2 L171.7,246.0 L173.1,244.7 L174.5,244.9 L175.9,246.3 L177.3,243.5 L178.8,243.2 L180.2,244.9 L181.6,243.2 L183.0,243.9 L184.4,242.2 L185.9,240.3 L187.3,240.1 L188.7,240.3 L190.1,239.1 L191.5,237.2 L193.0,236.2 L194.4,234.9 L195.8,233.3 L197.2,234.3 L198.6,231.4 L200.1,229.0 L201.5,228.0 L202.9,227.2 L204.3,225.0 L205.7,222.0 L207.2,219.0 L208.6,216.6 L210.0,212.0 L211.4,209.6 L212.8,208.8 L214.3,205.1 L215.7,203.3 L217.1,201.5 L218.5,198.4 L219.9,195.1 L221.4,194.2 L222.8,190.1 L224.2,186.4 L225.6,184.4 L227.0,181.2 L228.5,177.1 L229.9,174.9 L231.3,171.6 L232.7,166.9 L234.1,165.1 L235.6,161.5 L237.0,157.9 L238.4,153.4 L239.8,151.2 L241.2,148.4 L242.7,145.6 L244.1,141.6 L245.5,140.4 L246.9,136.0 L248.3,134.1 L249.8,132.8 L251.2,128.4 L252.6,126.1 L254.0,125.0 L255.4,121.1 L256.9,118.4 L258.3,115.9 L259.7,113.8 L261.1,108.4 L262.5,107.2 L264.0,104.7 L265.4,102.4 L266.8,100.5 L268.2,98.6 L269.6,97.8 L271.1,95.1 L272.5,94.3 L273.9,93.1 L275.3,90.6 L276.7,90.0 L278.2,89.9 L279.6,87.5 L281.0,85.7 L282.4,85.2 L283.8,83.6 L285.3,83.9 L286.7,84.0 L288.1,82.2 L289.5,82.6 L290.9,83.6 L292.4,82.0 L293.8,82.4 L295.2,80.8 L296.6,80.4 L298.0,80.4 L299.5,83.4 L300.9,83.4 L302.3,85.0 L303.7,86.7 L305.1,88.6 L306.6,90.8 L308.0,91.7 L309.4,94.6 L310.8,94.4 L312.2,96.8 L313.7,97.1 L315.1,98.6 L316.5,98.2 L317.9,100.8 L319.3,102.5 L320.8,104.2 L322.2,104.6 L323.6,109.1 L325.0,109.8 L326.4,111.4 L327.9,113.1 L329.3,114.6 L330.7,116.6 L332.1,116.7 L333.5,118.6 L335.0,121.4 L336.4,123.1 L337.8,124.5 L339.2,126.1 L340.6,127.6 L342.1,129.8 L343.5,132.4 L344.9,132.0 L346.3,135.9 L347.7,137.0 L349.2,137.8 L350.6,140.9 L352.0,141.0 L353.4,142.7 L354.8,145.0 L356.3,147.5 L357.7,149.3 L359.1,150.8 L360.5,153.1 L361.9,153.0 L363.4,157.2 L364.8,157.6 L366.2,160.2 L367.6,162.3 L369.0,163.4 L370.5,164.9 L371.9,166.6 L373.3,168.8 L374.7,170.7 L376.1,172.1 L377.6,172.4 L379.0,174.3 L380.4,176.3 L381.8,179.7 L383.2,179.9 L384.7,185.1 L386.1,185.8 L387.5,187.6 L388.9,190.5 L390.3,192.9 L391.8,194.0 L393.2,196.3 L394.6,197.2 L396.0,199.7 L397.4,201.2 L398.9,201.6 L400.3,204.3 L401.7,204.7 L403.1,206.0 L404.5,206.5 L406.0,208.3 L407.4,210.5 L408.8,210.0 L410.2,212.9 L411.6,213.8 L413.1,214.9 L414.5,214.0 L415.9,216.9 L417.3,218.7 L418.7,218.5 L420.2,220.3 L421.6,219.3 L423.0,222.9 L424.4,222.9 L425.8,225.4 L427.3,224.3 L428.7,227.6 L430.1,228.0 L431.5,230.0 L432.9,229.5 L434.4,230.7 L435.8,234.1 L437.2,232.4 L438.6,233.5 L440.0,235.0 L441.5,235.5 L442.9,238.6 L444.3,240.1 L445.7,238.9 L447.1,238.8 L448.6,242.0 L450.0,242.7 L451.4,243.1 L452.8,244.0 L454.2,242.9 L455.7,244.1 L457.1,243.7 L458.5,244.3 L459.9,247.0 L461.3,246.2 L462.8,249.4 L464.2,248.3 L465.6,248.4 L467.0,250.3 L468.4,251.8 L469.9,251.4 L471.3,250.5 L472.7,252.5 L474.1,253.9 L475.5,252.9 L477.0,253.2 L478.4,255.3 L479.8,255.1 L481.2,254.5 L482.6,255.6 L484.1,255.7 L485.5,257.0 L486.9,257.3 L488.3,258.6 L489.7,258.6 L491.2,257.0 L492.6,259.0 L494.0,259.7 L495.4,259.6 L496.8,260.3 L498.3,259.2 L499.7,259.1 L501.1,260.9 L502.5,259.4 L503.9,258.7 L505.4,261.6 L506.8,260.4 L508.2,261.0 L509.6,260.3 L511.0,260.6 L512.5,261.0 L513.9,261.9 L515.3,262.7 L516.7,260.7 L518.1,263.5 L519.6,262.0 L521.0,262.3 L522.4,264.0 L523.8,263.6 L525.2,262.5 L526.7,265.6 L528.1,263.5 L529.5,264.6" stroke="#000000" stroke-width="1.8" fill="none" stroke-linejoin="round"/><path d="M103.5,263.2 L104.9,264.0 L106.3,262.2 L107.8,263.2 L109.2,261.4 L110.6,262.7 L112.0,260.8 L113.4,260.9 L114.9,262.5 L116.3,260.9 L117.7,260.3 L119.1,261.7 L120.5,259.6 L122.0,257.8 L123.4,258.1 L124.8,255.2 L126.2,255.4 L127.6,253.4 L129.1,250.4 L130.5,249.2 L131.9,249.4 L133.3,249.0 L134.7,248.3 L136.2,250.0 L137.6,248.2 L139.0,249.5 L140.4,249.1 L141.8,248.8 L143.3,249.0 L144.7,247.3 L146.1,248.7 L147.5,248.0 L148.9,247.6 L150.4,247.0 L151.8,247.1 L153.2,248.4 L154.6,247.3 L156.0,248.1 L157.5,249.0 L158.9,248.9 L160.3,249.3 L161.7,247.6 L163.1,246.8 L164.6,248.4 L166.0,247.6 L167.4,248.0 L168.8,246.7 L170.2,247.5 L171.7,246.9 L173.1,246.4 L174.5,245.8 L175.9,245.3 L177.3,244.7 L178.8,244.2 L180.2,244.3 L181.6,242.4 L183.0,243.7 L184.4,241.5 L185.9,241.5 L187.3,239.6 L188.7,238.5 L190.1,239.5 L191.5,236.5 L193.0,234.7 L194.4,234.1 L195.8,233.3 L197.2,234.2 L198.6,231.2 L200.1,230.5 L201.5,227.3 L202.9,226.6 L204.3,224.8 L205.7,223.4 L207.2,218.7 L208.6,216.8 L210.0,213.5 L211.4,209.6 L212.8,207.9 L214.3,205.2 L215.7,201.0 L217.1,201.0 L218.5,198.4 L219.9,194.8 L221.4,191.0 L222.8,190.2 L224.2,185.8 L225.6,183.1 L227.0,179.9 L228.5,174.7 L229.9,172.3 L231.3,167.8 L232.7,164.2 L234.1,160.3 L235.6,156.6 L237.0,153.8 L238.4,149.3 L239.8,145.5 L241.2,141.9 L242.7,138.9 L244.1,134.3 L245.5,131.1 L246.9,128.0 L248.3,124.0 L249.8,120.9 L251.2,116.8 L252.6,115.3 L254.0,110.8 L255.4,106.2 L256.9,102.1 L258.3,100.5 L259.7,95.5 L261.1,91.9 L262.5,89.3 L264.0,86.6 L265.4,84.9 L266.8,81.1 L268.2,80.1 L269.6,74.5 L271.1,73.1 L272.5,69.2 L273.9,69.2 L275.3,65.2 L276.7,63.7 L278.2,63.0 L279.6,61.9 L281.0,58.8 L282.4,58.4 L283.8,56.6 L285.3,57.0 L286.7,55.9 L288.1,55.1 L289.5,54.4 L290.9,54.5 L292.4,54.0 L293.8,54.9 L295.2,55.7 L296.6,53.0 L298.0,55.5 L299.5,56.3 L300.9,57.9 L302.3,57.5 L303.7,59.0 L305.1,59.1 L306.6,61.3 L308.0,61.6 L309.4,62.1 L310.8,63.4 L312.2,63.8 L313.7,63.8 L315.1,66.9 L316.5,68.1 L317.9,69.3 L319.3,71.8 L320.8,73.6 L322.2,73.3 L323.6,75.3 L325.0,78.9 L326.4,80.4 L327.9,80.1 L329.3,81.3 L330.7,83.5 L332.1,85.4 L333.5,86.5 L335.0,90.7 L336.4,92.6 L337.8,95.0 L339.2,97.4 L340.6,96.1 L342.1,97.5 L343.5,100.6 L344.9,104.2 L346.3,106.5 L347.7,109.1 L349.2,110.4 L350.6,114.5 L352.0,115.5 L353.4,115.9 L354.8,118.8 L356.3,121.4 L357.7,123.2 L359.1,126.5 L360.5,128.4 L361.9,129.2 L363.4,132.1 L364.8,133.5 L366.2,137.3 L367.6,139.6 L369.0,144.1 L370.5,144.1 L371.9,144.5 L373.3,147.9 L374.7,150.9 L376.1,152.3 L377.6,155.1 L379.0,157.7 L380.4,160.3 L381.8,161.8 L383.2,163.2 L384.7,166.7 L386.1,167.7 L387.5,169.8 L388.9,171.2 L390.3,173.8 L391.8,177.0 L393.2,177.0 L394.6,180.3 L396.0,182.8 L397.4,183.7 L398.9,186.1 L400.3,186.6 L401.7,190.4 L403.1,191.9 L404.5,192.8 L406.0,192.6 L407.4,194.7 L408.8,197.8 L410.2,199.7 L411.6,199.9 L413.1,202.2 L414.5,202.2 L415.9,204.3 L417.3,206.1 L418.7,208.0 L420.2,207.7 L421.6,211.1 L423.0,212.6 L424.4,211.7 L425.8,212.7 L427.3,215.4 L428.7,215.9 L430.1,215.8 L431.5,220.0 L432.9,220.9 L434.4,221.7 L435.8,225.2 L437.2,224.8 L438.6,225.1 L440.0,227.0 L441.5,227.0 L442.9,228.3 L444.3,230.3 L445.7,230.4 L447.1,231.3 L448.6,234.0 L450.0,234.2 L451.4,235.1 L452.8,236.0 L454.2,237.2 L455.7,239.2 L457.1,239.2 L458.5,242.0 L459.9,240.6 L461.3,242.2 L462.8,242.1 L464.2,243.8 L465.6,245.3 L467.0,246.9 L468.4,245.8 L469.9,247.1 L471.3,247.6 L472.7,248.0 L474.1,248.3 L475.5,250.1 L477.0,249.3 L478.4,251.5 L479.8,251.9 L481.2,251.9 L482.6,252.0 L484.1,252.2 L485.5,255.3 L486.9,253.0 L488.3,255.9 L489.7,255.4 L491.2,255.0 L492.6,254.7 L494.0,256.9 L495.4,257.9 L496.8,256.0 L498.3,256.9 L499.7,258.4 L501.1,258.2 L502.5,259.9 L503.9,258.1 L505.4,259.3 L506.8,258.1 L508.2,261.3 L509.6,259.2 L511.0,258.2 L512.5,260.2 L513.9,260.5 L515.3,262.5 L516.7,260.9 L518.1,261.4 L519.6,262.2 L521.0,263.3 L522.4,262.1 L523.8,263.3 L525.2,263.1 L526.7,262.7 L528.1,263.2 L529.5,263.4" stroke="#a04818" stroke-width="1.8" fill="none" stroke-linejoin="round"/><path d="M103.5,257.7 L104.9,259.1 L106.3,256.4 L107.8,258.1 L109.2,257.4 L110.6,256.0 L112.0,255.0 L113.4,254.9 L114.9,254.9 L116.3,254.6 L117.7,253.7 L119.1,253.7 L120.5,251.7 L122.0,251.7 L123.4,249.4 L124.8,250.5 L126.2,249.1 L127.6,247.7 L129.1,248.3 L130.5,247.1 L131.9,243.8 L133.3,246.3 L134.7,245.0 L136.2,247.2 L137.6,248.5 L139.0,246.0 L140.4,246.5 L141.8,246.3 L143.3,246.7 L144.7,246.7 L146.1,246.9 L147.5,244.6 L148.9,246.5 L150.4,244.2 L151.8,245.1 L153.2,245.8 L154.6,245.4 L156.0,243.9 L157.5,244.1 L158.9,244.2 L160.3,244.4 L161.7,245.2 L163.1,242.7 L164.6,243.7 L166.0,243.3 L167.4,242.6 L168.8,241.9 L170.2,242.2 L171.7,240.6 L173.1,240.2 L174.5,239.1 L175.9,239.4 L177.3,235.4 L178.8,237.3 L180.2,235.1 L181.6,234.2 L183.0,232.6 L184.4,230.8 L185.9,230.9 L187.3,229.5 L188.7,229.2 L190.1,226.2 L191.5,227.2 L193.0,224.6 L194.4,222.4 L195.8,219.8 L197.2,217.4 L198.6,214.7 L200.1,212.9 L201.5,211.3 L202.9,209.1 L204.3,205.8 L205.7,204.3 L207.2,200.8 L208.6,198.5 L210.0,196.6 L211.4,192.2 L212.8,188.0 L214.3,183.5 L215.7,180.2 L217.1,176.5 L218.5,175.0 L219.9,170.2 L221.4,167.4 L222.8,163.3 L224.2,160.4 L225.6,158.0 L227.0,152.6 L228.5,149.3 L229.9,145.4 L231.3,143.6 L232.7,138.6 L234.1,135.0 L235.6,130.7 L237.0,125.8 L238.4,120.4 L239.8,117.6 L241.2,110.7 L242.7,109.0 L244.1,105.2 L245.5,100.8 L246.9,98.4 L248.3,95.5 L249.8,92.6 L251.2,92.5 L252.6,86.8 L254.0,85.9 L255.4,82.1 L256.9,76.3 L258.3,71.7 L259.7,68.2 L261.1,64.5 L262.5,61.8 L264.0,59.0 L265.4,53.9 L266.8,54.5 L268.2,53.0 L269.6,50.2 L271.1,49.0 L272.5,46.1 L273.9,46.4 L275.3,45.2 L276.7,44.7 L278.2,45.6 L279.6,43.7 L281.0,43.9 L282.4,42.1 L283.8,43.3 L285.3,43.2 L286.7,42.2 L288.1,41.9 L289.5,43.8 L290.9,41.0 L292.4,40.9 L293.8,41.0 L295.2,42.6 L296.6,43.3 L298.0,42.3 L299.5,42.9 L300.9,44.9 L302.3,47.8 L303.7,47.7 L305.1,51.3 L306.6,52.6 L308.0,52.6 L309.4,54.2 L310.8,55.5 L312.2,57.6 L313.7,57.3 L315.1,61.4 L316.5,62.4 L317.9,64.3 L319.3,67.0 L320.8,68.5 L322.2,69.7 L323.6,71.0 L325.0,73.5 L326.4,77.5 L327.9,80.0 L329.3,80.8 L330.7,83.1 L332.1,83.4 L333.5,85.4 L335.0,87.3 L336.4,88.0 L337.8,90.2 L339.2,93.4 L340.6,95.4 L342.1,97.3 L343.5,101.4 L344.9,103.7 L346.3,107.4 L347.7,108.8 L349.2,110.6 L350.6,112.9 L352.0,114.5 L353.4,116.0 L354.8,118.2 L356.3,121.1 L357.7,123.1 L359.1,125.7 L360.5,125.5 L361.9,129.1 L363.4,131.5 L364.8,134.4 L366.2,136.4 L367.6,138.7 L369.0,142.2 L370.5,143.9 L371.9,145.0 L373.3,149.3 L374.7,151.4 L376.1,152.6 L377.6,156.2 L379.0,157.1 L380.4,160.6 L381.8,161.4 L383.2,163.0 L384.7,165.5 L386.1,167.2 L387.5,170.1 L388.9,172.2 L390.3,174.2 L391.8,175.7 L393.2,175.0 L394.6,180.2 L396.0,180.4 L397.4,184.1 L398.9,186.6 L400.3,187.6 L401.7,188.8 L403.1,190.6 L404.5,192.3 L406.0,193.5 L407.4,194.9 L408.8,196.0 L410.2,199.1 L411.6,199.4 L413.1,201.8 L414.5,202.4 L415.9,204.3 L417.3,205.7 L418.7,207.8 L420.2,209.5 L421.6,210.3 L423.0,210.7 L424.4,211.8 L425.8,215.1 L427.3,214.7 L428.7,216.0 L430.1,218.9 L431.5,220.0 L432.9,221.0 L434.4,221.6 L435.8,225.2 L437.2,224.8 L438.6,226.0 L440.0,226.5 L441.5,226.5 L442.9,227.6 L444.3,230.1 L445.7,231.0 L447.1,231.3 L448.6,231.4 L450.0,232.0 L451.4,234.0 L452.8,234.1 L454.2,237.3 L455.7,238.8 L457.1,241.4 L458.5,240.9 L459.9,240.7 L461.3,241.4 L462.8,240.1 L464.2,243.4 L465.6,244.5 L467.0,246.3 L468.4,246.7 L469.9,247.4 L471.3,247.9 L472.7,249.0 L474.1,250.4 L475.5,249.0 L477.0,250.1 L478.4,250.0 L479.8,253.1 L481.2,253.3 L482.6,253.3 L484.1,252.1 L485.5,253.7 L486.9,253.8 L488.3,254.4 L489.7,254.6 L491.2,255.5 L492.6,255.1 L494.0,256.6 L495.4,256.4 L496.8,256.3 L498.3,256.9 L499.7,256.9 L501.1,258.4 L502.5,257.8 L503.9,258.6 L505.4,258.3 L506.8,257.7 L508.2,260.1 L509.6,258.7 L511.0,260.4 L512.5,260.5 L513.9,259.0 L515.3,259.9 L516.7,260.5 L518.1,260.5 L519.6,260.5 L521.0,262.4 L522.4,261.8 L523.8,262.6 L525.2,262.1 L526.7,263.0 L528.1,262.3 L529.5,263.2" stroke="#5ec81c" stroke-width="1.8" fill="none" stroke-linejoin="round"/><path d="M103.5,263.8 L104.9,263.0 L106.3,262.2 L107.8,261.3 L109.2,262.1 L110.6,261.9 L112.0,261.0 L113.4,260.2 L114.9,261.1 L116.3,262.5 L117.7,259.7 L119.1,259.9 L120.5,259.6 L122.0,256.5 L123.4,258.4 L124.8,257.1 L126.2,258.3 L127.6,256.0 L129.1,254.6 L130.5,253.5 L131.9,252.1 L133.3,250.3 L134.7,250.2 L136.2,248.5 L137.6,249.1 L139.0,249.7 L140.4,250.5 L141.8,249.2 L143.3,248.6 L144.7,249.3 L146.1,249.1 L147.5,249.6 L148.9,249.0 L150.4,247.9 L151.8,248.1 L153.2,248.0 L154.6,248.1 L156.0,247.9 L157.5,247.0 L158.9,245.7 L160.3,246.9 L161.7,245.4 L163.1,247.0 L164.6,246.6 L166.0,244.7 L167.4,246.4 L168.8,246.1 L170.2,245.0 L171.7,246.1 L173.1,245.9 L174.5,242.8 L175.9,244.5 L177.3,243.6 L178.8,243.2 L180.2,243.2 L181.6,241.2 L183.0,240.8 L184.4,240.0 L185.9,239.2 L187.3,238.7 L188.7,236.4 L190.1,235.7 L191.5,235.9 L193.0,234.0 L194.4,232.9 L195.8,229.2 L197.2,228.4 L198.6,226.5 L200.1,224.9 L201.5,222.0 L202.9,220.8 L204.3,217.1 L205.7,214.2 L207.2,211.0 L208.6,208.2 L210.0,203.6 L211.4,201.6 L212.8,197.6 L214.3,194.0 L215.7,190.5 L217.1,187.5 L218.5,184.5 L219.9,181.0 L221.4,177.0 L222.8,173.9 L224.2,169.6 L225.6,166.9 L227.0,162.1 L228.5,156.4 L229.9,155.6 L231.3,150.5 L232.7,145.3 L234.1,141.9 L235.6,136.9 L237.0,135.1 L238.4,129.2 L239.8,122.7 L241.2,120.1 L242.7,114.9 L244.1,112.9 L245.5,106.4 L246.9,101.7 L248.3,100.2 L249.8,96.3 L251.2,92.7 L252.6,87.5 L254.0,86.0 L255.4,82.7 L256.9,74.1 L258.3,71.6 L259.7,65.7 L261.1,65.0 L262.5,60.3 L264.0,57.2 L265.4,56.0 L266.8,53.2 L268.2,49.9 L269.6,48.9 L271.1,45.8 L272.5,42.7 L273.9,44.3 L275.3,40.5 L276.7,38.7 L278.2,38.1 L279.6,35.1 L281.0,34.2 L282.4,34.1 L283.8,33.5 L285.3,33.5 L286.7,34.0 L288.1,32.4 L289.5,33.2 L290.9,33.2 L292.4,31.6 L293.8,32.8 L295.2,31.7 L296.6,33.5 L298.0,32.9 L299.5,33.4 L300.9,33.9 L302.3,36.6 L303.7,37.0 L305.1,39.6 L306.6,40.0 L308.0,40.6 L309.4,43.2 L310.8,44.2 L312.2,44.3 L313.7,47.2 L315.1,47.3 L316.5,48.8 L317.9,50.8 L319.3,51.7 L320.8,53.8 L322.2,56.1 L323.6,60.0 L325.0,62.5 L326.4,63.2 L327.9,66.8 L329.3,67.0 L330.7,69.1 L332.1,71.2 L333.5,72.4 L335.0,76.3 L336.4,76.3 L337.8,77.1 L339.2,81.4 L340.6,82.0 L342.1,84.3 L343.5,84.2 L344.9,90.1 L346.3,92.3 L347.7,94.8 L349.2,97.5 L350.6,100.6 L352.0,101.5 L353.4,104.7 L354.8,105.4 L356.3,108.0 L357.7,111.6 L359.1,113.2 L360.5,113.9 L361.9,117.7 L363.4,119.5 L364.8,121.2 L366.2,124.6 L367.6,126.1 L369.0,127.3 L370.5,130.1 L371.9,135.0 L373.3,134.5 L374.7,138.5 L376.1,141.1 L377.6,143.2 L379.0,143.5 L380.4,146.3 L381.8,148.8 L383.2,151.6 L384.7,152.7 L386.1,154.7 L387.5,158.9 L388.9,161.1 L390.3,162.7 L391.8,164.2 L393.2,167.4 L394.6,169.3 L396.0,172.0 L397.4,172.2 L398.9,175.4 L400.3,177.0 L401.7,178.0 L403.1,180.9 L404.5,182.5 L406.0,183.7 L407.4,186.0 L408.8,186.0 L410.2,188.8 L411.6,190.8 L413.1,192.3 L414.5,194.5 L415.9,194.0 L417.3,195.2 L418.7,198.2 L420.2,199.8 L421.6,202.7 L423.0,202.8 L424.4,202.8 L425.8,205.8 L427.3,205.8 L428.7,206.7 L430.1,211.9 L431.5,211.3 L432.9,213.0 L434.4,214.2 L435.8,216.6 L437.2,216.5 L438.6,218.6 L440.0,217.9 L441.5,218.9 L442.9,222.7 L444.3,224.0 L445.7,224.3 L447.1,225.2 L448.6,226.3 L450.0,226.7 L451.4,229.9 L452.8,230.3 L454.2,231.4 L455.7,232.6 L457.1,234.5 L458.5,235.2 L459.9,236.6 L461.3,235.9 L462.8,238.4 L464.2,240.8 L465.6,239.2 L467.0,240.4 L468.4,242.2 L469.9,243.1 L471.3,243.6 L472.7,242.4 L474.1,245.2 L475.5,244.5 L477.0,245.6 L478.4,247.5 L479.8,247.4 L481.2,249.0 L482.6,251.7 L484.1,250.1 L485.5,250.6 L486.9,249.6 L488.3,250.3 L489.7,250.4 L491.2,251.3 L492.6,251.3 L494.0,252.1 L495.4,253.0 L496.8,252.7 L498.3,252.8 L499.7,253.3 L501.1,255.3 L502.5,255.4 L503.9,256.6 L505.4,257.0 L506.8,256.1 L508.2,257.4 L509.6,255.8 L511.0,259.5 L512.5,258.8 L513.9,257.8 L515.3,257.3 L516.7,259.0 L518.1,257.2 L519.6,258.5 L521.0,260.2 L522.4,259.9 L523.8,259.7 L525.2,261.3 L526.7,259.8 L528.1,261.3 L529.5,260.9" stroke="#1616f0" stroke-width="1.8" fill="none" stroke-linejoin="round"/><path d="M103.5,262.7 L104.9,263.6 L106.3,262.0 L107.8,264.3 L109.2,261.7 L110.6,263.7 L112.0,260.6 L113.4,261.8 L114.9,259.9 L116.3,259.4 L117.7,260.5 L119.1,260.6 L120.5,258.5 L122.0,260.3 L123.4,258.0 L124.8,258.2 L126.2,257.6 L127.6,256.8 L129.1,253.7 L130.5,255.3 L131.9,252.8 L133.3,251.0 L134.7,249.8 L136.2,248.7 L137.6,248.6 L139.0,250.0 L140.4,248.9 L141.8,248.0 L143.3,248.4 L144.7,250.2 L146.1,248.4 L147.5,248.1 L148.9,249.8 L150.4,248.9 L151.8,248.5 L153.2,247.8 L154.6,246.9 L156.0,247.2 L157.5,247.7 L158.9,247.9 L160.3,248.3 L161.7,248.3 L163.1,247.8 L164.6,247.5 L166.0,246.1 L167.4,244.7 L168.8,245.8 L170.2,245.1 L171.7,245.0 L173.1,245.0 L174.5,243.8 L175.9,243.5 L177.3,244.0 L178.8,243.8 L180.2,242.6 L181.6,243.1 L183.0,241.9 L184.4,240.4 L185.9,240.5 L187.3,241.0 L188.7,237.6 L190.1,238.2 L191.5,237.3 L193.0,236.3 L194.4,233.0 L195.8,234.1 L197.2,230.7 L198.6,228.5 L200.1,226.4 L201.5,224.9 L202.9,222.1 L204.3,219.3 L205.7,217.7 L207.2,212.9 L208.6,209.6 L210.0,208.0 L211.4,204.6 L212.8,201.6 L214.3,196.2 L215.7,194.6 L217.1,190.5 L218.5,188.1 L219.9,181.8 L221.4,179.6 L222.8,175.5 L224.2,170.8 L225.6,168.1 L227.0,166.4 L228.5,161.6 L229.9,158.0 L231.3,156.0 L232.7,152.4 L234.1,148.3 L235.6,142.0 L237.0,137.6 L238.4,133.5 L239.8,127.0 L241.2,121.8 L242.7,118.7 L244.1,115.3 L245.5,109.0 L246.9,103.9 L248.3,101.4 L249.8,98.2 L251.2,95.4 L252.6,92.5 L254.0,88.1 L255.4,83.6 L256.9,79.4 L258.3,73.0 L259.7,68.8 L261.1,64.5 L262.5,64.3 L264.0,59.7 L265.4,55.4 L266.8,52.5 L268.2,50.3 L269.6,46.5 L271.1,44.7 L272.5,42.0 L273.9,40.8 L275.3,37.2 L276.7,35.0 L278.2,33.1 L279.6,31.9 L281.0,31.9 L282.4,30.8 L283.8,31.2 L285.3,28.9 L286.7,29.8 L288.1,28.5 L289.5,27.6 L290.9,25.2 L292.4,25.3 L293.8,26.8 L295.2,27.3 L296.6,26.3 L298.0,27.2 L299.5,26.5 L300.9,27.1 L302.3,27.8 L303.7,30.4 L305.1,30.9 L306.6,31.5 L308.0,32.6 L309.4,34.6 L310.8,35.7 L312.2,36.1 L313.7,39.8 L315.1,40.1 L316.5,41.6 L317.9,44.7 L319.3,46.2 L320.8,47.2 L322.2,50.0 L323.6,51.0 L325.0,53.9 L326.4,55.1 L327.9,61.1 L329.3,61.1 L330.7,66.0 L332.1,67.0 L333.5,69.1 L335.0,71.9 L336.4,74.5 L337.8,76.9 L339.2,79.9 L340.6,80.7 L342.1,83.4 L343.5,84.6 L344.9,88.5 L346.3,90.7 L347.7,92.9 L349.2,96.0 L350.6,98.8 L352.0,101.5 L353.4,104.1 L354.8,105.5 L356.3,107.5 L357.7,111.1 L359.1,111.1 L360.5,114.4 L361.9,118.6 L363.4,117.0 L364.8,121.1 L366.2,124.6 L367.6,124.7 L369.0,130.8 L370.5,128.4 L371.9,134.4 L373.3,137.0 L374.7,138.8 L376.1,140.0 L377.6,142.6 L379.0,143.5 L380.4,147.0 L381.8,147.3 L383.2,150.3 L384.7,153.9 L386.1,154.4 L387.5,157.3 L388.9,160.0 L390.3,160.9 L391.8,165.4 L393.2,166.9 L394.6,167.3 L396.0,170.8 L397.4,172.2 L398.9,174.3 L400.3,176.9 L401.7,178.1 L403.1,181.3 L404.5,181.5 L406.0,184.7 L407.4,185.3 L408.8,187.7 L410.2,188.1 L411.6,189.7 L413.1,190.6 L414.5,193.7 L415.9,195.5 L417.3,198.1 L418.7,198.8 L420.2,199.3 L421.6,200.3 L423.0,202.2 L424.4,203.3 L425.8,206.1 L427.3,207.1 L428.7,206.9 L430.1,208.5 L431.5,211.8 L432.9,212.3 L434.4,213.1 L435.8,215.6 L437.2,215.4 L438.6,216.8 L440.0,217.9 L441.5,217.9 L442.9,221.7 L444.3,221.1 L445.7,222.9 L447.1,223.9 L448.6,226.4 L450.0,226.8 L451.4,228.0 L452.8,227.7 L454.2,230.3 L455.7,230.3 L457.1,233.1 L458.5,234.3 L459.9,234.9 L461.3,237.7 L462.8,237.2 L464.2,238.1 L465.6,238.5 L467.0,238.9 L468.4,240.7 L469.9,241.4 L471.3,239.9 L472.7,242.5 L474.1,242.5 L475.5,243.4 L477.0,243.5 L478.4,242.4 L479.8,243.1 L481.2,246.4 L482.6,245.7 L484.1,244.9 L485.5,247.2 L486.9,247.3 L488.3,246.8 L489.7,247.1 L491.2,248.3 L492.6,250.6 L494.0,250.8 L495.4,251.1 L496.8,252.0 L498.3,252.8 L499.7,250.7 L501.1,252.7 L502.5,252.7 L503.9,252.7 L505.4,253.7 L506.8,254.4 L508.2,254.7 L509.6,254.0 L511.0,255.2 L512.5,257.8 L513.9,255.4 L515.3,255.1 L516.7,257.3 L518.1,257.9 L519.6,258.2 L521.0,257.2 L522.4,259.5 L523.8,258.3 L525.2,258.4 L526.7,259.2 L528.1,260.1 L529.5,261.3" stroke="#3c1e8c" stroke-width="1.8" fill="none" stroke-linejoin="round"/>
<line x1="103.3" y1="15.9" x2="103.2" y2="273" stroke="#000" stroke-width="1.6"/><line x1="102.4" y1="272.4" x2="531" y2="272.4" stroke="#000" stroke-width="2"/><line x1="96.6" y1="271.6" x2="103" y2="271.6" stroke="#000" stroke-width="1.6"/><line x1="96.6" y1="237.6" x2="103" y2="237.6" stroke="#000" stroke-width="1.6"/><line x1="96.6" y1="203.5" x2="103" y2="203.5" stroke="#000" stroke-width="1.6"/><line x1="96.6" y1="169.5" x2="103" y2="169.5" stroke="#000" stroke-width="1.6"/><line x1="96.6" y1="135.5" x2="103" y2="135.5" stroke="#000" stroke-width="1.6"/><line x1="96.6" y1="101.5" x2="103" y2="101.5" stroke="#000" stroke-width="1.6"/><line x1="96.6" y1="67.4" x2="103" y2="67.4" stroke="#000" stroke-width="1.6"/><line x1="96.6" y1="33.4" x2="103" y2="33.4" stroke="#000" stroke-width="1.6"/><line x1="145.7" y1="272" x2="145.7" y2="279.2" stroke="#000" stroke-width="2"/><line x1="216.7" y1="272" x2="216.7" y2="279.2" stroke="#000" stroke-width="2"/><line x1="287.7" y1="272" x2="287.7" y2="279.2" stroke="#000" stroke-width="2"/><line x1="358.7" y1="272" x2="358.7" y2="279.2" stroke="#000" stroke-width="2"/><line x1="429.7" y1="272" x2="429.7" y2="279.2" stroke="#000" stroke-width="2"/><line x1="500.7" y1="272" x2="500.7" y2="279.2" stroke="#000" stroke-width="2"/>
<rect x="508.6" y="36.0" width="9" height="9" fill="#fde6f3"/><rect x="496.2" y="36.0" width="9" height="9" fill="#fde6f3"/><rect x="483.8" y="38.9" width="9" height="9" fill="#fde6f3"/><rect x="471.4" y="40.9" width="9" height="9" fill="#fde6f3"/><rect x="459.0" y="46.1" width="9" height="9" fill="#fde6f3"/><rect x="446.6" y="53.6" width="9" height="9" fill="#fde6f3"/><rect x="434.2" y="83.1" width="9" height="9" fill="#fde6f3"/><rect x="421.8" y="92.9" width="9" height="9" fill="#fde6f3"/><rect x="409.4" y="101.3" width="9" height="9" fill="#fde6f3"/><rect x="397.0" y="106.8" width="9" height="9" fill="#fde6f3"/><line x1="389.1" y1="30.5" x2="389.1" y2="117.6" stroke="#000" stroke-width="1.1"/><line x1="388.6" y1="117.1" x2="520" y2="117.1" stroke="#000" stroke-width="1.1"/><line x1="386.6" y1="117.1" x2="389.1" y2="117.1" stroke="#000" stroke-width="1"/><line x1="386.6" y1="92.3" x2="389.1" y2="92.3" stroke="#000" stroke-width="1"/><line x1="386.6" y1="67.5" x2="389.1" y2="67.5" stroke="#000" stroke-width="1"/><line x1="386.6" y1="42.7" x2="389.1" y2="42.7" stroke="#000" stroke-width="1"/><line x1="387.6" y1="104.7" x2="389.1" y2="104.7" stroke="#000" stroke-width="0.8"/><line x1="387.6" y1="79.9" x2="389.1" y2="79.9" stroke="#000" stroke-width="0.8"/><line x1="387.6" y1="55.1" x2="389.1" y2="55.1" stroke="#000" stroke-width="0.8"/><line x1="389.1" y1="117.1" x2="389.1" y2="119.6" stroke="#000" stroke-width="1"/><line x1="413.9" y1="117.1" x2="413.9" y2="119.6" stroke="#000" stroke-width="1"/><line x1="438.7" y1="117.1" x2="438.7" y2="119.6" stroke="#000" stroke-width="1"/><line x1="463.5" y1="117.1" x2="463.5" y2="119.6" stroke="#000" stroke-width="1"/><line x1="488.3" y1="117.1" x2="488.3" y2="119.6" stroke="#000" stroke-width="1"/><line x1="513.1" y1="117.1" x2="513.1" y2="119.6" stroke="#000" stroke-width="1"/><line x1="401.5" y1="117.1" x2="401.5" y2="118.6" stroke="#000" stroke-width="0.8"/><line x1="426.3" y1="117.1" x2="426.3" y2="118.6" stroke="#000" stroke-width="0.8"/><line x1="451.1" y1="117.1" x2="451.1" y2="118.6" stroke="#000" stroke-width="0.8"/><line x1="475.9" y1="117.1" x2="475.9" y2="118.6" stroke="#000" stroke-width="0.8"/><line x1="500.7" y1="117.1" x2="500.7" y2="118.6" stroke="#000" stroke-width="0.8"/><polyline points="401.5,111.3 413.9,105.8 426.3,97.4 438.7,87.6 451.1,58.1 463.5,50.6 475.9,45.4 488.3,43.4 500.7,40.5 513.1,40.5" fill="none" stroke="#1a0608" stroke-width="1.5"/><rect x="399.1" y="108.9" width="4.8" height="4.8" fill="#7a5010" stroke="#b04414" stroke-width="0.7"/><rect x="411.5" y="103.4" width="4.8" height="4.8" fill="#7a5010" stroke="#b04414" stroke-width="0.7"/><rect x="423.9" y="95.0" width="4.8" height="4.8" fill="#7a5010" stroke="#b04414" stroke-width="0.7"/><rect x="436.3" y="85.2" width="4.8" height="4.8" fill="#7a5010" stroke="#b04414" stroke-width="0.7"/><rect x="448.7" y="55.7" width="4.8" height="4.8" fill="#7a5010" stroke="#b04414" stroke-width="0.7"/><rect x="461.1" y="48.2" width="4.8" height="4.8" fill="#7a5010" stroke="#b04414" stroke-width="0.7"/><rect x="473.5" y="43.0" width="4.8" height="4.8" fill="#7a5010" stroke="#b04414" stroke-width="0.7"/><rect x="485.9" y="41.0" width="4.8" height="4.8" fill="#7a5010" stroke="#b04414" stroke-width="0.7"/><rect x="498.3" y="38.1" width="4.8" height="4.8" fill="#7a5010" stroke="#b04414" stroke-width="0.7"/><rect x="510.7" y="38.1" width="4.8" height="4.8" fill="#7a5010" stroke="#b04414" stroke-width="0.7"/>
<text transform="translate(92.9,276.0) scale(1.048,1)" text-anchor="end" class="tl">0</text><text transform="translate(92.9,242.0) scale(1.048,1)" text-anchor="end" class="tl">20000</text><text transform="translate(92.9,207.9) scale(1.048,1)" text-anchor="end" class="tl">40000</text><text transform="translate(92.9,173.9) scale(1.048,1)" text-anchor="end" class="tl">60000</text><text transform="translate(92.9,139.9) scale(1.048,1)" text-anchor="end" class="tl">80000</text><text transform="translate(92.9,105.9) scale(1.048,1)" text-anchor="end" class="tl">100000</text><text transform="translate(92.9,71.8) scale(1.048,1)" text-anchor="end" class="tl">120000</text><text transform="translate(92.9,37.8) scale(1.048,1)" text-anchor="end" class="tl">140000</text><text transform="translate(145.7,295.0) scale(1.048,1)" text-anchor="middle" class="tl">400</text><text transform="translate(216.7,295.0) scale(1.048,1)" text-anchor="middle" class="tl">450</text><text transform="translate(287.7,295.0) scale(1.048,1)" text-anchor="middle" class="tl">500</text><text transform="translate(358.7,295.0) scale(1.048,1)" text-anchor="middle" class="tl">550</text><text transform="translate(429.7,295.0) scale(1.048,1)" text-anchor="middle" class="tl">600</text><text transform="translate(500.7,295.0) scale(1.048,1)" text-anchor="middle" class="tl">650</text><text x="386.5" y="121.1" text-anchor="end" class="il">0</text><text x="386.5" y="96.3" text-anchor="end" class="il">10</text><text x="386.5" y="71.5" text-anchor="end" class="il">20</text><text x="386.5" y="46.7" text-anchor="end" class="il">30</text><text x="389.1" y="129.5" text-anchor="middle" class="il">0</text><text x="413.9" y="129.5" text-anchor="middle" class="il">2</text><text x="438.7" y="129.5" text-anchor="middle" class="il">4</text><text x="463.5" y="129.5" text-anchor="middle" class="il">6</text><text x="488.3" y="129.5" text-anchor="middle" class="il">8</text><text x="513.1" y="129.5" text-anchor="middle" class="il">10</text>
<text x="0" y="0" transform="translate(23.3,168.6) rotate(-90) scale(1.04,1)" style="font-size:16px;font-weight:bold">Intensity</text>
<text transform="translate(237.8,321.6) scale(1.1,1)" style="font-size:16.2px;font-weight:bold">Wavelength (nm)</text>
<text x="121" y="156.6" style="font-size:19.8px">Zn</text>
<text x="145.3" y="148.4" style="font-size:18px">2<tspan dx="0.8" dy="0.6">+</tspan></text>
<line x1="183.3" y1="140" x2="183.3" y2="108" stroke="#000" stroke-width="1.3"/>
<path d="M180.8,109.5 L183.3,101.7 L185.8,109.5 Z" fill="#000"/>
<text x="0" y="0" transform="translate(369.6,98.2) rotate(-90)" style="font-size:12px">Response</text>
<text x="422.2" y="142.7" style="font-size:11px">Zn</text><text x="434.2" y="137.3" style="font-size:6.5px">2+</text><text x="444.5" y="142.7" style="font-size:11px">( μM )</text>
</svg>
</body></html>
